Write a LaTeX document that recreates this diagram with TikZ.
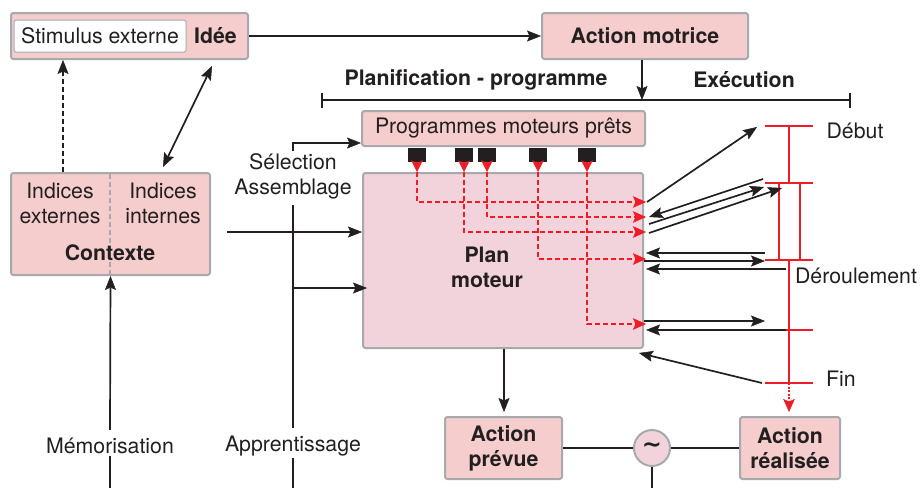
\documentclass[tikz,border=0pt]{standalone}
\usepackage{fontspec}
\setmainfont{TeX Gyre Heros}
\newfontfamily\djv{DejaVu Sans}
\usetikzlibrary{arrows.meta,calc}
\definecolor{boxfill}{HTML}{F5CDCD}
\definecolor{planfill}{HTML}{F2D3DB}
\definecolor{boxdraw}{HTML}{A7A9AC}
\definecolor{ink}{HTML}{231F20}
\definecolor{myred}{HTML}{EE1C25}
\begin{document}
\begin{tikzpicture}[x=1pt,y=-1pt,
  every node/.style={font=\fontsize{21.3}{25}\selectfont, text=ink},
  box/.style={draw=boxdraw, fill=boxfill, line width=2pt, rounded corners=2.5pt, inner sep=0pt, align=center},
  bold/.style={font=\fontsize{21.3}{25}\selectfont\bfseries},
  lbl/.style={inner sep=2pt, align=center},
  conn/.style={draw=ink, line width=1.7pt},
  tip/.tip={Stealth[length=14pt,width=11pt,inset=2.5pt,line width=0.5pt]},
  arr/.style={conn, -tip},
  darr/.style={conn, tip-tip},
  dasharr/.style={arr, dash pattern=on 5pt off 3pt},
  redl/.style={draw=myred, line width=1.8pt},
  rtip/.tip={Stealth[length=13pt,width=11.5pt,inset=2.5pt,line width=0.5pt]},
  reddash/.style={draw=myred, line width=1.8pt, dash pattern=on 5pt off 3pt, -rtip},
  redarr/.style={draw=myred, line width=1.4pt, -{Stealth[length=11.5pt,width=11.5pt,inset=2.5pt,line width=0.5pt]}},
  sq/.style={fill=ink, minimum width=18pt, minimum height=14pt, inner sep=0pt}
]
\useasboundingbox (0,0) rectangle (920,488);

% ---- top row
\node[box, minimum width=237pt, minimum height=46pt] (idee) at (129.5,36) {};
\node[draw=boxdraw, fill=white, line width=1pt, rounded corners=1.5pt, minimum width=172pt, minimum height=32pt, inner sep=0pt] (stim) at (100,36) {Stimulus externe};
\node[bold] (ideet) at (215.5,36) {Idée};
\node[box, bold, minimum width=206pt, minimum height=46pt] (am) at (645,36) {Action motrice};
\draw[arr] (idee.east) -- (am.west);

% ---- bracket
\coordinate (bl) at (322,100);
\coordinate (br) at (850,100);
\draw[conn] (bl) -- (br);
\draw[conn] ($(bl)+(0,-7.5)$) -- ($(bl)+(0,7.5)$);
\draw[conn] ($(br)+(0,-7.5)$) -- ($(br)+(0,7.5)$);
\draw[arr] (am.south -| 642,0) -- (642,100);
\node[bold] (plt) at (476,80) {Planification - programme};
\node[bold] (exe) at (744,80) {Exécution};

% ---- programmes / plan
\node[box, minimum width=283pt, minimum height=35pt] (prog) at (503.5,128.5) {Programmes moteurs prêts};
\node[box, fill=planfill, minimum width=280pt, minimum height=175pt] (plan) at (503,260.5) {};
\node[bold, align=center] (plant) at (487,267) {Plan\\moteur};

\node[sq] (s1) at (417,155) {};
\node[sq] (s2) at (464,155) {};
\node[sq] (s3) at (487,155) {};
\node[sq] (s4) at (538,155) {};
\node[sq] (s5) at (587,155) {};
\foreach \s in {s1,s2,s3,s4,s5}{
  \draw[redarr] (\s.south) -- (\s.south |- plan.north);
}
\draw[reddash] (s1.south |- plan.north) |- ([xshift=2pt]plan.east |- 0,202);
\draw[reddash] (s3.south |- plan.north) |- ([xshift=2pt]plan.east |- 0,217);
\draw[reddash] (s2.south |- plan.north) |- ([xshift=2pt]plan.east |- 0,232);
\draw[reddash] (s4.south |- plan.north) |- ([xshift=2pt]plan.east |- 0,259);
\draw[reddash] (s5.south |- plan.north) |- ([xshift=2pt]plan.east |- 0,324);

% ---- contexte
\node[box, minimum width=199pt, minimum height=102pt] (ctx) at (110.5,224) {};
\draw[boxdraw, line width=1.5pt, dash pattern=on 5pt off 3pt] (110,174) -- (110,274);
\node[lbl] (ie) at (60,203) {Indices\\externes};
\node[lbl] (ii) at (163,203) {Indices\\internes};
\node[bold] (ctxt) at (110,253) {Contexte};
\draw[dasharr] (ctx.north -| 63,0) -- (idee.south -| 63,0);
\coordinate (dA) at (163,167);
\coordinate (dB) at (212,66);
\draw[darr] (dA) -- (dB);

% ---- left verticals
\node[lbl] (sel) at (293,176) {Sélection\\Assemblage};
\node[lbl] (app) at (293,446) {Apprentissage};
\node[lbl] (mem) at (110,446) {Mémorisation};
\coordinate (memb) at (110,488);
\coordinate (appb) at (293,488);
\draw[arr] (sel.north) |- ($(prog.south west)+(0,-4)$);
\draw[conn] ([yshift=-4pt]sel.south) -- ([yshift=6pt]app.north);
\draw[conn] (app.south) -- (appb);
\draw[arr] ([yshift=6pt]mem.north) -- (ctx.south);
\draw[conn] (mem.south) -- (memb);
\coordinate (c1) at (227,232);
\draw[arr] (c1) -- (plan.west |- c1);
\coordinate (j2) at (293,288);
\draw[arr] (j2) -- ([xshift=5pt]plan.west |- j2);

% ---- execution (red scale)
\foreach \yy in {126,183,260,330,383}{
  \draw[redl] (765,\yy) -- (813,\yy);
}
\draw[redl] (789,126) -- (789,183);
\draw[redl] (779,183) -- (779,260);
\draw[redl] (800,183) -- (800,260);
\draw[redl] (789,260) -- (789,383);
\node (deb) at (855,131) {Début};
\node (der) at (856,276) {Déroulement};
\node (fin) at (841,379) {Fin};

% black arrows
\coordinate (a1s) at (647,202); \coordinate (a1e) at (757,127);
\coordinate (a2s) at (763,179); \coordinate (a2e) at (649,217);
\coordinate (a3s) at (649,224); \coordinate (a3e) at (764,187);
\coordinate (a4s) at (649,233); \coordinate (a4e) at (782,188);
\coordinate (a5s) at (765,253); \coordinate (a5e) at (646,253);
\coordinate (a6s) at (644,261); \coordinate (a6e) at (765,261);
\coordinate (a7s) at (786,269); \coordinate (a7e) at (646,269);
\coordinate (a8s) at (644,321); \coordinate (a8e) at (765,321);
\coordinate (a9s) at (786,330); \coordinate (a9e) at (646,330);
\coordinate (a10s) at (762,383); \coordinate (a10e) at (639,353);
\foreach \i in {1,...,10}{
  \draw[arr] (a\i s) -- (a\i e);
}

% ---- bottom
\node[box, bold, minimum width=117pt, minimum height=62pt] (ap) at (503.5,448) {Action\\prévue};
\node[box, bold, minimum width=100pt, minimum height=62pt] (ar) at (790,448) {Action\\réalisée};
\node[circle, draw=boxdraw, fill=planfill, line width=2pt, minimum size=36pt, inner sep=0pt, font=\djv\fontsize{24}{24}\selectfont\bfseries] (cmp) at (652,448) {\raisebox{-0.11em}{\textasciitilde}};
\draw[arr, shorten >=4pt] (plan.south -| 504,0) -- (ap.north -| 504,0);
\draw[conn] (ap.east) -- (cmp.west);
\draw[conn] (cmp.east) -- (ar.west);
\coordinate (cmpb) at (652,488);
\draw[conn] (cmp.south) -- (cmpb);
\draw[draw=myred, line width=1.6pt, dash pattern=on 2pt off 1.5pt, -rtip, shorten >=4pt] (789,383) -- (ar.north -| 789,0);
\end{tikzpicture}
\end{document}
